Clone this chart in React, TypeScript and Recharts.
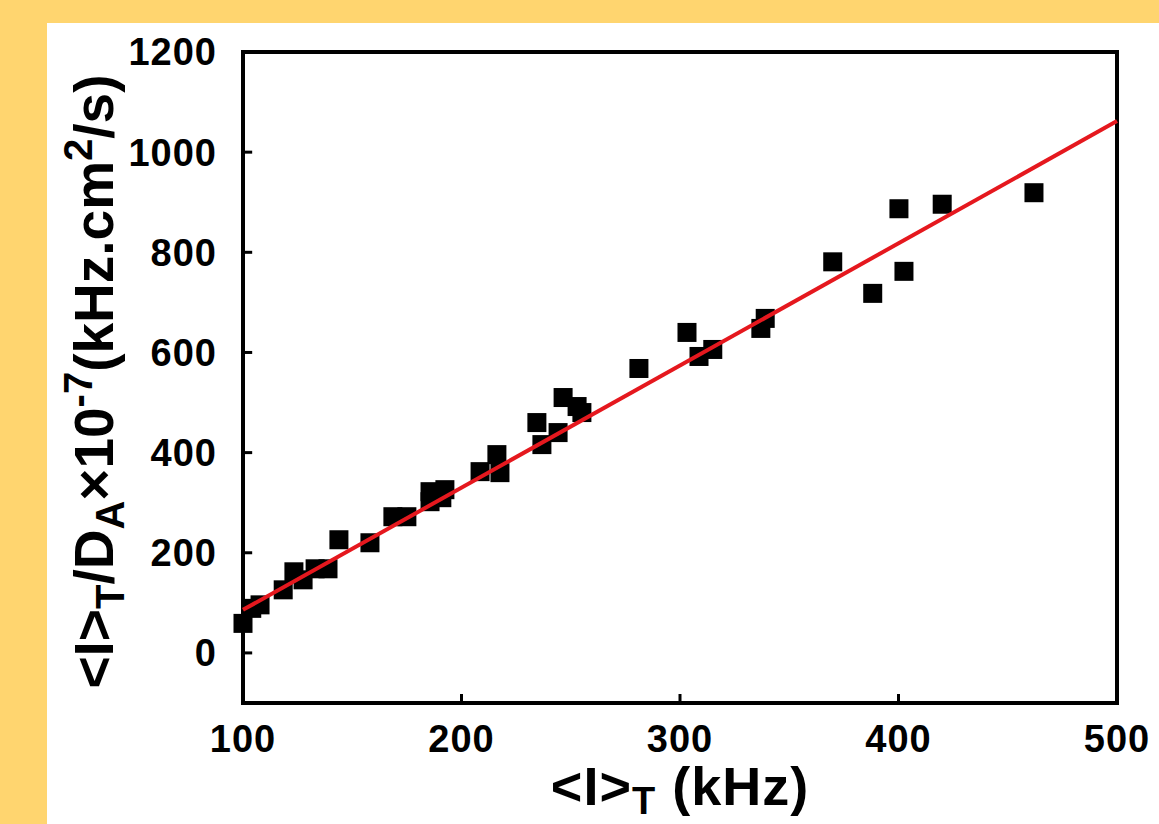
import { ScatterChart, Scatter, XAxis, YAxis, ReferenceArea, ReferenceLine, Label } from "recharts";

// mean intensity <I>_T (kHz)
const intensity = [
  100, 104, 107.8, 118.4, 123.3, 127.5, 133, 138.9, 143.9, 158.1,
  168.6, 175, 185.6, 192.4, 185.6, 191, 208.5, 216.2, 217.6, 234.5,
  236.8, 244.2, 246.5, 252.9, 255.1, 281.2, 303.2, 308.7, 315, 337,
  339, 369.9, 388.2, 400.2, 402.5, 420, 462,
];
// <I>_T / D_A x 1e-7
const ratio = [
  59, 89, 96, 126, 162, 146, 168, 168, 226, 220,
  272, 272, 322, 326, 302, 310, 362, 396, 360, 460,
  416, 440, 510, 492, 480, 568, 640, 592, 606, 648,
  668, 781, 718, 887, 762, 896, 919,
];
// linear fit end points
const fitX = [100, 500];
const fitY = [86, 1062];

const xTicks = [100, 200, 300, 400, 500];
const yTicks = [0, 200, 400, 600, 800, 1000, 1200];

const X_DOMAIN: [number, number] = [100, 500];
const Y_DOMAIN: [number, number] = [-100, 1200];
// inward tick length, in data units of each axis (about 9px)
const X_TICK_LEN = 4.2;
const Y_TICK_LEN = 18;

const points = intensity.map((x, i) => ({ x, y: ratio[i] }));
const fitLine = fitX.map((x, i) => ({ x, y: fitY[i] }));

const FONT = "'Liberation Sans', Arial, sans-serif";
const tickStyle = { fontFamily: FONT, fontSize: 38, fontWeight: 700, fill: "#000", letterSpacing: 1 };

function Square(props: any) {
  const { cx, cy } = props;
  return <rect x={cx - 9.5} y={cy - 9.5} width={19} height={19} fill="#000" />;
}

function XTitle(props: any) {
  const vb = props.viewBox;
  const cx = vb.x + vb.width / 2;
  return (
    <text x={cx} y={vb.y + vb.height - 19} textAnchor="middle" fontFamily={FONT} fontWeight={700} fontSize={54} fill="#000" letterSpacing={1}>
      {"<I>"}
      <tspan dy={9} fontSize={38}>T</tspan>
      <tspan dy={-9}>{" (kHz)"}</tspan>
    </text>
  );
}

function YTitle(props: any) {
  const vb = props.viewBox;
  const cx = 66;
  const cy = vb.y + vb.height / 2 + 4;
  return (
    <text
      x={cx}
      y={cy}
      textAnchor="middle"
      transform={`rotate(-90, ${cx}, ${cy})`}
      fontFamily={FONT}
      fontWeight={700}
      fontSize={55}
      fill="#000"
    >
      {"<I>"}
      <tspan dy={11} fontSize={40}>T</tspan>
      <tspan dy={-11}>/D</tspan>
      <tspan dy={11} fontSize={40}>A</tspan>
      <tspan dy={-11}>×10</tspan>
      <tspan dy={-21} fontSize={40}>-7</tspan>
      <tspan dy={21}>(kHz.cm</tspan>
      <tspan dy={-21} fontSize={40}>2</tspan>
      <tspan dy={21}>/s)</tspan>
    </text>
  );
}

export default function App() {
  return (
    <div style={{ position: "fixed", left: 0, top: 0, width: 1159, height: 824, background: "#FFD56F" }}>
      <div style={{ position: "absolute", left: 47, top: 23, width: 1112, height: 801, background: "#fff" }}>
        <ScatterChart width={1112} height={801} margin={{ top: 29, right: 42, left: 0, bottom: 0 }}>
          <XAxis
            type="number"
            dataKey="x"
            domain={X_DOMAIN}
            ticks={xTicks}
            height={121}
            axisLine={false}
            tickLine={false}
            tickMargin={16}
            tick={tickStyle}
            interval={0}
          >
            <Label content={XTitle} />
          </XAxis>
          <YAxis
            type="number"
            dataKey="y"
            domain={Y_DOMAIN}
            ticks={yTicks}
            width={196}
            axisLine={false}
            tickLine={false}
            tickMargin={20}
            tick={tickStyle}
            interval={0}
          >
            <Label content={YTitle} />
          </YAxis>
          {/* inward tick marks */}
          {xTicks.slice(1, -1).map((t) => (
            <ReferenceLine
              key={`xt${t}`}
              segment={[{ x: t, y: Y_DOMAIN[0] }, { x: t, y: Y_DOMAIN[0] + Y_TICK_LEN }]}
              stroke="#000"
              strokeWidth={3}
            />
          ))}
          {yTicks.map((t) => (
            <ReferenceLine
              key={`yt${t}`}
              segment={[{ x: X_DOMAIN[0], y: t }, { x: X_DOMAIN[0] + X_TICK_LEN, y: t }]}
              stroke="#000"
              strokeWidth={3}
            />
          ))}
          <ReferenceArea
            x1={X_DOMAIN[0]}
            x2={X_DOMAIN[1]}
            y1={Y_DOMAIN[0]}
            y2={Y_DOMAIN[1]}
            fill="#fff"
            fillOpacity={0}
            stroke="#000"
            strokeWidth={4}
          />
          <Scatter data={points} fill="#000" shape={Square} isAnimationActive={false} />
          <Scatter
            data={fitLine}
            line={{ stroke: "#E5181E", strokeWidth: 4 }}
            shape={() => null}
            isAnimationActive={false}
          />
        </ScatterChart>
      </div>
    </div>
  );
}
